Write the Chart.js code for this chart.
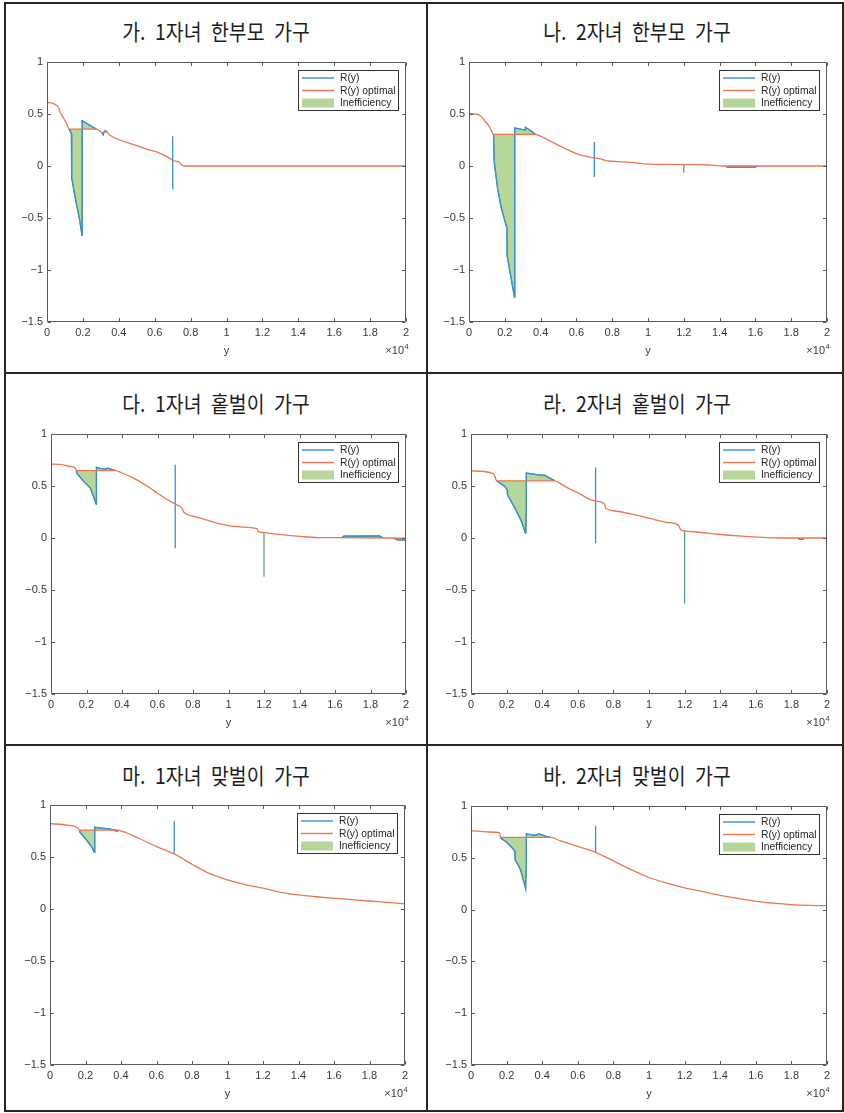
<!DOCTYPE html>
<html>
<head>
<meta charset="utf-8">
<script src="https://cdn.jsdelivr.net/npm/chart.js@4.4.1/dist/chart.umd.min.js"></script>
<style>
  html, body { margin: 0; padding: 0; background: #fff; }
  #sheet { position: relative; width: 844px; height: 1113px; overflow: hidden; background: #fff; }
  .rule { position: absolute; background: #262626; }
  .title {
    position: absolute; width: 320px; text-align: center; white-space: nowrap;
    font-family: "Noto Sans CJK KR", "Noto Sans", sans-serif; font-size: 22px; line-height: 28px;
    color: #1c1c1c; word-spacing: 6px; transform: scaleX(0.88);
  }
  canvas { position: absolute; }
</style>
</head>
<body>
<div id="sheet"></div>
<script>
// ---- axes ----
const xTicks = [0, 2000, 4000, 6000, 8000, 10000, 12000, 14000, 16000, 18000, 20000];
const xTickLabels = ['0', '0.2', '0.4', '0.6', '0.8', '1', '1.2', '1.4', '1.6', '1.8', '2'];
const yTicks = [-1.5, -1, -0.5, 0, 0.5, 1];
const yTickLabels = ['\u22121.5', '\u22121', '\u22120.5', '0', '0.5', '1'];
const seriesNames = ['R(y)', 'R(y) optimal', 'Inefficiency'];
const titles = ['가. 1자녀 한부모 가구', '나. 2자녀 한부모 가구', '다. 1자녀 홑벌이 가구',
                '라. 2자녀 홑벌이 가구', '마. 1자녀 맞벌이 가구', '바. 2자녀 맞벌이 가구'];

// ---- 가. 1자녀 한부모 가구 ----
const optA = [[0,0.61],[300,0.605],[520,0.585],[640,0.565],[690,0.545],[740,0.515],[860,0.48],[990,0.44],[1120,0.395],[1230,0.355],
  [2750,0.355],[2950,0.335],[3100,0.315],[3200,0.33],[3330,0.325],[3500,0.298],[3680,0.279],[4000,0.255],[4500,0.224],[5000,0.195],
  [5500,0.165],[6100,0.135],[6600,0.097],[7000,0.058],[7200,0.045],[7350,0.038],[7420,0.025],[7550,0.006],[7650,0],[20000,0]];
const poolA = [[1230,0.355],[1300,0.335],[1360,0.31],[1375,-0.115],[1600,-0.33],[1800,-0.5],[1950,-0.665],[1960,0.435],[2200,0.41],
  [2500,0.38],[2750,0.355], null, [3050,0.32],[3130,0.3],[3200,0.335],[3260,0.34],[3350,0.323]];
const spikesA = [[7000, 0.285, -0.224]];
const notchesA = [];

// ---- 나. 2자녀 한부모 가구 ----
const optB = [[0,0.505],[300,0.5],[540,0.494],[720,0.47],[900,0.43],[1090,0.39],[1250,0.34],[1370,0.305],[3700,0.305],[3900,0.295],
  [4200,0.27],[4630,0.231],[5000,0.198],[5370,0.167],[6000,0.12],[6300,0.103],[6950,0.08],[7400,0.065],[7600,0.055],[7800,0.048],
  [8160,0.045],[9000,0.034],[10000,0.018],[11000,0.015],[12000,0.014],[13000,0.013],[13500,0.008],[14000,0.002],[14300,0],[20000,0]];
const poolB = [[1370,0.305],[1410,0.039],[1600,-0.22],[1800,-0.4],[2120,-0.6],[2130,-0.86],[2300,-1.03],[2540,-1.26],[2545,0.087],
  [2560,0.087],[2565,0.366],[2800,0.358],[3140,0.346],[3150,0.372],[3400,0.345],[3700,0.305], null,
  [14400,0],[14420,-0.01],[16000,-0.01],[16050,0]];
const spikesB = [[7000, 0.231, -0.106]];
const notchesB = [[12000, 0.014, -0.064]];

// ---- 다. 1자녀 홑벌이 가구 ----
const optC = [[0,0.711],[600,0.705],[1000,0.69],[1370,0.673],[1430,0.647],[3620,0.647],[4000,0.625],[4650,0.576],[5590,0.48],
  [6000,0.43],[6500,0.375],[7000,0.326],[7380,0.287],[7480,0.25],[8000,0.21],[8410,0.191],[9350,0.143],[10000,0.12],[10480,0.11],
  [11000,0.103],[11600,0.09],[11700,0.061],[12000,0.052],[13000,0.032],[14000,0.016],[15000,0.004],[16000,0.004],[19000,0],[20000,-0.004]];
const poolC = [[1430,0.647],[1440,0.625],[1840,0.544],[2220,0.48],[2550,0.326],[2560,0.679],[2800,0.668],[3100,0.665],[3200,0.672],
  [3400,0.66],[3620,0.647], null, [16400,0.004],[16500,0.018],[18500,0.02],[18700,0.002], null,
  [19300,0],[19500,-0.018],[20000,-0.02]];
const spikesC = [[7000, 0.705, -0.099]];
const notchesC = [[12000, 0.052, -0.372]];

// ---- 라. 2자녀 홑벌이 가구 ----
const optD = [[0,0.645],[700,0.64],[1160,0.624],[1300,0.61],[1440,0.55],[4710,0.55],[5000,0.525],[5460,0.48],[6000,0.435],
  [6950,0.357],[7510,0.326],[7560,0.287],[8000,0.262],[9200,0.223],[10000,0.19],[11000,0.15],[11630,0.126],[11800,0.078],
  [12500,0.06],[13870,0.036],[15000,0.02],[16670,0.004],[17500,0],[20000,0]];
const poolD = [[1440,0.55],[1900,0.495],[2040,0.46],[2050,0.415],[2470,0.287],[2840,0.158],[3060,0.046],[3080,0.05],[3100,0.23],
  [3110,0.624],[3700,0.61],[4150,0.602],[4710,0.55], null, [18400,0],[18450,-0.013],[18600,-0.013],[18650,0]];
const spikesD = [[7000, 0.679, -0.05]];
const notchesD = [[12000, 0.076, -0.63]];

// ---- 마. 1자녀 맞벌이 가구 ----
const optE = [[0,0.82],[800,0.81],[1590,0.776],[1670,0.758],[3750,0.758],[4130,0.743],[5000,0.68],[6000,0.6],[7000,0.53],
  [8000,0.43],[9000,0.34],[10000,0.28],[11000,0.235],[12000,0.2],[13000,0.16],[14000,0.135],[15000,0.118],[16000,0.103],
  [17000,0.09],[18000,0.077],[19000,0.063],[20000,0.05]];
const poolE = [[1670,0.758],[1680,0.74],[2060,0.663],[2340,0.6],[2500,0.545],[2520,0.786],[2800,0.78],[3300,0.77],[3650,0.758],
  [3750,0.745],[3850,0.755]];
const spikesE = [[7000, 0.846, 0.535]];
const notchesE = [];

// ---- 바. 2자녀 맞벌이 가구 ----
const optF = [[0,0.762],[1000,0.749],[1610,0.74],[1660,0.698],[4470,0.698],[5000,0.665],[6000,0.61],[7000,0.553],[8000,0.47],
  [9000,0.385],[10000,0.31],[11000,0.255],[12000,0.21],[13000,0.175],[14000,0.138],[15000,0.108],[16000,0.08],[17000,0.062],
  [18000,0.048],[19000,0.04],[20000,0.038]];
const poolF = [[1660,0.698],[1700,0.685],[1940,0.659],[2320,0.595],[2470,0.563],[2480,0.482],[2780,0.386],[3070,0.203],
  [3090,0.376],[3110,0.73],[3630,0.717],[3800,0.73],[4190,0.71],[4470,0.698]];
const spikesF = [[7000, 0.81, 0.553]];
const notchesF = [];

// ---- page layout: plot boxes [left, top, right, bottom] and title centres ----
const panels = [
  { opt: optA, pool: poolA, spikes: spikesA, notches: notchesA, box: [47, 62, 406, 322],  head: [216, 30] },
  { opt: optB, pool: poolB, spikes: spikesB, notches: notchesB, box: [469, 62, 827, 322], head: [637, 30] },
  { opt: optC, pool: poolC, spikes: spikesC, notches: notchesC, box: [51, 434, 406, 694], head: [216, 402] },
  { opt: optD, pool: poolD, spikes: spikesD, notches: notchesD, box: [471, 434, 827, 694], head: [637, 402] },
  { opt: optE, pool: poolE, spikes: spikesE, notches: notchesE, box: [50, 805, 405, 1065], head: [216, 774] },
  { opt: optF, pool: poolF, spikes: spikesF, notches: notchesF, box: [471, 806, 827, 1065], head: [637, 774] }
];

const PAD_L = 50, PAD_T = 14, PAD_R = 16, PAD_B = 44;
const INK = '#383838';
const FONT = '"Liberation Sans", Arial, sans-serif';
const BLUE = '#3a8fd4', ORANGE = '#ec7650', GREEN = '#b7d69a', GREEN_EDGE = '#4f9c80';

// [x, y] rows (null = break in the line) -> Chart.js points
function toPoints(rows) {
  const out = [];
  let lastX = 0;
  rows.forEach(r => {
    if (r) { out.push({ x: r[0], y: r[1] }); lastX = r[0]; }
    else out.push({ x: lastX, y: null });
  });
  return out;
}
// [x, top, bottom] -> a separate vertical stroke
function strokes(marks) {
  const rows = [];
  marks.forEach(m => rows.push(null, [m[0], m[1]], [m[0], m[2]]));
  return rows;
}

// plot frame with inward ticks, the in-plot legend and the x10^4 exponent
const framePlugin = {
  id: 'frame',
  afterDatasetsDraw(chart) {
    const { ctx, chartArea: a, scales: { x, y } } = chart;
    const L = a.left + 0.5, R = a.right - 0.5, T = a.top + 0.5, B = a.bottom - 0.5, TL = 3.5;
    ctx.save();
    ctx.strokeStyle = '#5a5a5a';
    ctx.lineWidth = 1;
    ctx.beginPath();
    ctx.rect(L, T, R - L, B - T);
    x.ticks.forEach(t => {
      const p = Math.round(x.getPixelForValue(t.value)) + 0.5;
      ctx.moveTo(p, B); ctx.lineTo(p, B - TL);
      ctx.moveTo(p, T); ctx.lineTo(p, T + TL);
    });
    y.ticks.forEach(t => {
      const p = Math.round(y.getPixelForValue(t.value)) + 0.5;
      ctx.moveTo(L, p); ctx.lineTo(L + TL, p);
      ctx.moveTo(R, p); ctx.lineTo(R - TL, p);
    });
    ctx.stroke();
    ctx.restore();
  },
  afterDraw(chart) {
    const { ctx, chartArea: a } = chart;
    const ds = chart.data.datasets;
    const w = 100, h = 40;
    const lx = Math.round(a.right - 8 - w) + 0.5, ly = Math.round(a.top + 8) + 0.5;
    ctx.save();
    ctx.fillStyle = '#fff';
    ctx.fillRect(lx, ly, w, h);
    ctx.strokeStyle = '#333';
    ctx.lineWidth = 1;
    ctx.strokeRect(lx, ly, w, h);
    ctx.font = '10.3px ' + FONT;
    ctx.textBaseline = 'middle';
    ctx.textAlign = 'left';
    seriesNames.forEach((name, i) => {
      const d = ds.find(s => s.label === name);
      const ry = ly + 7.5 + i * 12.5;
      if (d.fill) {
        ctx.fillStyle = d.backgroundColor;
        ctx.fillRect(lx + 3.5, ry - 4.5, 32, 9);
      } else {
        ctx.strokeStyle = d.borderColor;
        ctx.lineWidth = 1.4;
        ctx.beginPath();
        ctx.moveTo(lx + 3.5, ry); ctx.lineTo(lx + 35.5, ry);
        ctx.stroke();
      }
      ctx.fillStyle = '#262626';
      ctx.fillText(name, lx + 41.5, ry + 0.5);
    });
    // x10^4 exponent under the right end of the x axis
    ctx.fillStyle = INK;
    ctx.textAlign = 'right';
    ctx.textBaseline = 'alphabetic';
    ctx.font = '11px ' + FONT;
    ctx.fillText('\u00d710', a.right - 2, a.bottom + 32);
    ctx.textAlign = 'left';
    ctx.font = '7.5px ' + FONT;
    ctx.fillText('4', a.right - 1.5, a.bottom + 27);
    ctx.restore();
  }
};

const sheet = document.getElementById('sheet');

// table rules
[[4, 2, 840, 2], [4, 372, 840, 2], [4, 744, 840, 2], [4, 1110, 840, 2],
 [4, 2, 2, 1110], [426, 2, 2, 1110], [842, 2, 2, 1110]].forEach(r => {
  const d = document.createElement('div');
  d.className = 'rule';
  d.style.left = r[0] + 'px'; d.style.top = r[1] + 'px';
  d.style.width = r[2] + 'px'; d.style.height = r[3] + 'px';
  sheet.appendChild(d);
});

panels.forEach((p, k) => {
  const t = document.createElement('div');
  t.className = 'title';
  t.textContent = titles[k];
  t.style.left = (p.head[0] - 160) + 'px';
  t.style.top = (p.head[1] - 14) + 'px';
  sheet.appendChild(t);

  const [l, tp, r, b] = p.box;
  const cw = (r - l) + PAD_L + PAD_R, chh = (b - tp) + PAD_T + PAD_B;
  const cv = document.createElement('canvas');
  cv.width = cw; cv.height = chh;
  cv.style.left = (l - PAD_L) + 'px';
  cv.style.top = (tp - PAD_T) + 'px';
  cv.style.width = cw + 'px'; cv.style.height = chh + 'px';
  sheet.appendChild(cv);

  new Chart(cv.getContext('2d'), {
    type: 'line',
    data: {
      datasets: [
        { label: seriesNames[1], data: toPoints(p.opt), borderColor: ORANGE, borderWidth: 1.3,
          pointRadius: 0, fill: false, cubicInterpolationMode: 'monotone' },
        { label: seriesNames[0], data: toPoints(p.pool.concat(strokes(p.spikes))), borderColor: BLUE,
          borderWidth: 1.3, pointRadius: 0, fill: false, tension: 0 },
        { label: seriesNames[2], data: toPoints(p.pool.concat(strokes(p.notches))), borderColor: GREEN_EDGE,
          borderWidth: 1.2, backgroundColor: GREEN, pointRadius: 0, tension: 0,
          fill: { target: 0, above: GREEN, below: GREEN } }
      ]
    },
    options: {
      responsive: false,
      animation: false,
      devicePixelRatio: 1,
      events: [],
      layout: { padding: { left: 0, top: PAD_T, right: PAD_R, bottom: 0 } },
      plugins: {
        legend: { display: false },
        tooltip: { enabled: false },
        filler: { drawTime: 'beforeDatasetsDraw', propagate: false }
      },
      scales: {
        x: {
          type: 'linear', min: 0, max: 20000,
          afterBuildTicks: s => { s.ticks = xTicks.map(v => ({ value: v })); },
          afterFit: s => { s.height = PAD_B; },
          grid: { display: false, drawTicks: false },
          border: { display: false },
          ticks: { callback: (v, i) => xTickLabels[i], padding: 4.5, color: INK, autoSkip: false,
                   maxRotation: 0, font: { family: FONT, size: 11 } },
          title: { display: true, text: 'y', color: INK, font: { family: FONT, size: 11 },
                   padding: { top: 0, bottom: 8 } }
        },
        y: {
          type: 'linear', min: -1.5, max: 1,
          afterBuildTicks: s => { s.ticks = yTicks.map(v => ({ value: v })); },
          afterFit: s => { s.width = PAD_L; },
          grid: { display: false, drawTicks: false },
          border: { display: false },
          ticks: { callback: (v, i) => yTickLabels[i], padding: 4, color: INK,
                   font: { family: FONT, size: 11 } }
        }
      }
    },
    plugins: [framePlugin]
  });
});
</script>
</body>
</html>
